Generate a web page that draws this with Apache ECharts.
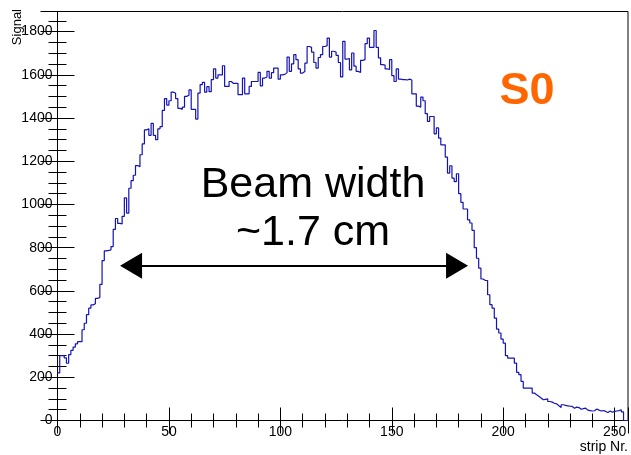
<!DOCTYPE html>
<html>
<head>
<meta charset="utf-8">
<script src="https://cdn.jsdelivr.net/npm/echarts@6/dist/echarts.min.js"></script>
<style>
html,body{margin:0;padding:0;background:#fff;}
#chart{width:631px;height:455px;}
</style>
</head>
<body>
<div id="chart"></div>
<script>
// ---- data (bin contents per strip, bins of width 1 from 0 to 256) ----
const binWidth = 1;
const signal = [
 220,300,300,290,265,305,325,340,355,365,
 365,420,450,490,520,535,540,565,570,630,
 740,785,787,790,805,885,935,912,910,945,
 1030,960,1075,1110,1135,1180,1175,1230,1280,1345,
 1350,1320,1375,1320,1300,1350,1360,1435,1490,1460,
 1480,1520,1515,1490,1445,1440,1450,1500,1505,1530,
 1440,1440,1395,1515,1555,1565,1520,1545,1522,1578,
 1627,1585,1600,1600,1642,1546,1546,1569,1560,1560,
 1560,1508,1508,1585,1512,1512,1546,1569,1569,1569,
 1611,1549,1585,1590,1616,1585,1610,1631,1631,1580,
 1600,1602,1610,1682,1616,1651,1693,1670,1627,1608,
 1615,1654,1731,1727,1705,1657,1631,1680,1693,1731,
 1735,1770,1682,1709,1705,1690,1657,1590,1755,1673,
 1675,1623,1701,1640,1616,1611,1667,1670,1744,1770,
 1727,1727,1805,1727,1678,1647,1645,1627,1625,1670,
 1596,1569,1627,1580,1578,1578,1576,1580,1576,1512,
 1512,1455,1450,1497,1480,1420,1384,1407,1407,1327,
 1354,1307,1276,1276,1219,1145,1179,1122,1106,1142,
 1050,1010,979,979,929,914,880,800,751,705,
 655,648,648,582,536,520,474,423,405,377,
 358,300,289,289,289,266,223,212,181,150,
 150,150,150,127,119,112,104,96,98,100,
 88,85,80,77,68,60,73,70,68,66,
 65,57,62,60,52,55,57,48,46,44,
 45,53,48,44,46,42,37,44,38,42,
 44,46,50,40,0,0
];
const xMin = 0, xMax = 256;
const yMin = 0, yMax = 1893;
const xMajor = 50, xMinor = 10;
const yMajor = 200, yMinor = 50;
const xTitle = 'strip Nr.';
const yTitle = 'Signal';
const label1 = 'Beam width';
const label2 = '~1.7 cm';
const tagText = 'S0';
const arrowStart = [33, 716];
const arrowEnd = [179.3, 716];

// ---- build ----
const pts = signal.map((v, i) => [xMin + i * binWidth, v]);
pts.push([xMin + signal.length * binWidth, signal[signal.length - 1]]);

const FONT = 'Liberation Sans, Arial, Helvetica, sans-serif';
const chart = echarts.init(document.getElementById('chart'), null, {renderer: 'canvas'});

function xAx(pos, interval, len, showLabel) {
  return {
    type: 'value', position: pos, min: xMin, max: xMax, interval: interval,
    axisLine: {show: false},
    splitLine: {show: false},
    axisTick: {show: true, inside: true, length: len, lineStyle: {color: '#000', width: 1}},
    axisLabel: {show: showLabel, color: '#000', fontFamily: FONT, fontSize: 14, margin: 5,
      formatter: v => (v % xMajor === 0 ? String(v) : '')}
  };
}
function yAx(pos, interval, len, showLabel) {
  return {
    type: 'value', position: pos, min: yMin, max: yMax, interval: interval,
    axisLine: {show: false},
    splitLine: {show: false},
    axisTick: {show: true, inside: true, length: len, lineStyle: {color: '#000', width: 1}},
    axisLabel: {show: showLabel, color: '#000', fontFamily: FONT, fontSize: 14, margin: 5,
      formatter: v => (v % yMajor === 0 ? String(v) : '')}
  };
}

const option = {
  animation: false,
  backgroundColor: '#fff',
  grid: {left: 57.5, top: 11.5, right: 3, bottom: 34.5, show: true, borderColor: '#000', borderWidth: 1, backgroundColor: 'transparent'},
  xAxis: [
    xAx('bottom', xMajor, 13, true),
    xAx('bottom', xMinor, 7, false),
    xAx('top', xMajor, 13, false),
    xAx('top', xMinor, 7, false)
  ],
  yAxis: [
    yAx('left', yMajor, 17, true),
    yAx('left', yMinor, 9, false),
    yAx('right', yMajor, 17, false),
    yAx('right', yMinor, 9, false)
  ],
  series: [{
    type: 'line', xAxisIndex: 0, yAxisIndex: 0,
    data: pts, step: 'end', showSymbol: false, symbol: 'none',
    lineStyle: {color: '#1414b4', width: 1.2},
    markLine: {
      silent: true,
      symbol: ['triangle', 'triangle'],
      symbolSize: [26, 22],
      label: {show: false},
      lineStyle: {color: '#000', width: 2, type: 'solid'},
      data: [[{coord: arrowStart}, {coord: arrowEnd}]]
    }
  }],
  graphic: [
    {type: 'text', x: 313, y: 185, style: {text: label1, fill: '#000', font: '43px ' + FONT, align: 'center', verticalAlign: 'middle'}},
    {type: 'text', x: 313, y: 233, style: {text: label2, fill: '#000', font: '43px ' + FONT, align: 'center', verticalAlign: 'middle'}},
    {type: 'text', x: 527, y: 92, style: {text: tagText, fill: '#ff6600', font: 'bold 45px ' + FONT, align: 'center', verticalAlign: 'middle'}},
    {type: 'text', x: 628, y: 447, style: {text: xTitle, fill: '#000', font: '14px ' + FONT, align: 'right', verticalAlign: 'middle'}},
    {type: 'text', x: 17, y: 9, rotation: Math.PI / 2, style: {text: yTitle, fill: '#000', font: '13px ' + FONT, align: 'right', verticalAlign: 'middle'}}
  ]
};
chart.setOption(option);
</script>
</body>
</html>
